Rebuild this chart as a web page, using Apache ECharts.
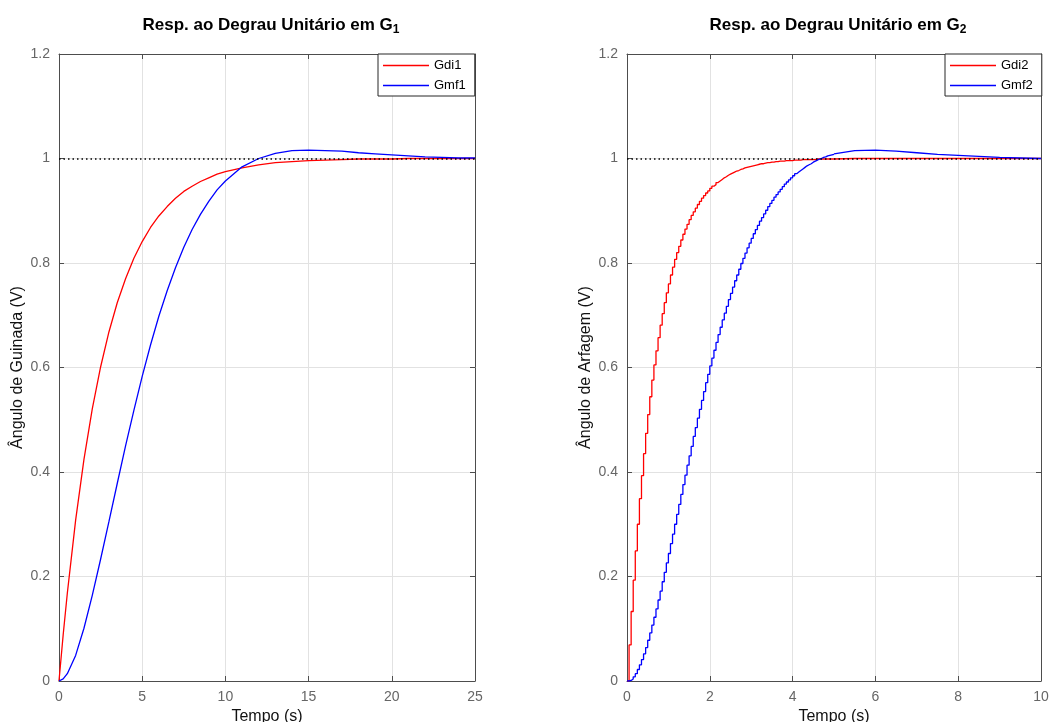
<!DOCTYPE html>
<html>
<head>
<meta charset="utf-8">
<script src="https://cdn.jsdelivr.net/npm/echarts@6/dist/echarts.min.js"></script>
<style>
html,body{margin:0;padding:0;background:#fff;}
#c{width:1051px;height:722px;}
</style>
</head>
<body>
<div id="c"></div>
<script>
// ---- Left plot (continuous) ----
const tLeft = [0,0.25,0.5,1,1.5,2,2.5,3,3.5,4,4.5,5,5.5,6,6.5,7,7.5,8,8.5,9,9.5,10,
  11,12,13,14,15,16,17,18,19,20,21,22,23,24,25];
const gdi1 = [0,0.088,0.168,0.308,0.424,0.521,0.601,0.668,0.724,0.770,0.809,0.841,0.868,0.890,0.908,0.924,0.937,0.947,0.956,0.963,0.970,0.975,
  0.982,0.988,0.992,0.994,0.996,0.997,0.998,0.999,0.999,0.999,1.000,1.000,1.000,1.000,1.000];
const gmf1 = [0,0.004,0.014,0.049,0.101,0.164,0.233,0.305,0.378,0.450,0.518,0.583,0.643,0.698,0.747,0.791,0.830,0.864,0.893,0.918,0.940,0.957,
  0.984,1.000,1.010,1.015,1.016,1.015,1.014,1.011,1.009,1.007,1.005,1.003,1.002,1.001,1.001];

// ---- Right plot (discrete, sample time Ts) ----
const Ts = 0.05;
const gdi2 = [0,0.069,0.133,0.193,0.249,0.300,0.349,0.393,0.435,0.474,0.510,
  0.544,0.576,0.605,0.632,0.657,0.681,0.703,0.724,0.743,0.760,
  0.777,0.792,0.807,0.820,0.832,0.844,0.855,0.865,0.874,0.883,
  0.891,0.898,0.905,0.912,0.918,0.924,0.929,0.934,0.938,0.943,
  0.947,0.950,0.954,0.957,0.960,0.963,0.965,0.968,0.970,0.972,
  0.974,0.976,0.977,0.979,0.980,0.982,0.983,0.984,0.985,0.986,
  0.987,0.988,0.989,0.990,0.990,0.991,0.992,0.992,0.993,0.993,
  0.994,0.994,0.995,0.995,0.995,0.996,0.996,0.996,0.996,0.997,
  0.997,0.997,0.997,0.998,0.998,0.998,0.998,0.998,0.998,0.998,
  0.999,0.999,0.999,0.999,0.999,0.999,0.999,0.999,0.999,0.999];
const gmf2 = [0,0.001,0.004,0.008,0.014,0.022,0.031,0.041,0.052,0.064,0.078,
  0.092,0.107,0.122,0.138,0.155,0.172,0.190,0.208,0.226,0.244,
  0.263,0.281,0.300,0.319,0.338,0.357,0.376,0.394,0.413,0.431,
  0.449,0.468,0.485,0.503,0.520,0.537,0.554,0.571,0.587,0.603,
  0.618,0.633,0.648,0.663,0.677,0.691,0.704,0.717,0.730,0.742,
  0.754,0.766,0.777,0.788,0.799,0.809,0.819,0.829,0.838,0.847,
  0.856,0.864,0.872,0.880,0.887,0.894,0.901,0.908,0.914,0.920,
  0.926,0.931,0.936,0.941,0.946,0.951,0.955,0.959,0.963,0.967,
  0.971,0.974,0.977,0.980,0.983,0.986,0.988,0.990,0.993,0.995,
  0.997,0.999,1.000,1.002,1.003,1.005,1.006,1.007,1.008,1.009];
const tTail = [5,5.5,6,6.5,7,7.5,8,8.5,9,9.5,10];
const gdi2Tail = [0.999,1.000,1.000,1.000,1.000,1.000,1.000,1.000,1.000,1.000,1.000];
const gmf2Tail = [1.009,1.015,1.016,1.014,1.011,1.008,1.006,1.004,1.002,1.001,1.000];

const xTicksLeft = {min:0, max:25, interval:5};
const xTicksRight = {min:0, max:10, interval:2};
const yTicks = {min:0, max:1.2, interval:0.2};

// ---- build ----
const FONT = 'Liberation Sans, Arial, Helvetica, sans-serif';
const RED = '#ff0000', BLUE = '#0000ff';
const pairs = (t, v) => v.map((y, i) => [t[i], y]);
const sampled = v => v.map((y, k) => [+(k * Ts).toFixed(4), y]);

const AX = '#4d4d4d';
function xAxisDef(grid, ticks, pos, name){
  return Object.assign({
    type:'value', gridIndex:grid, position:pos,
    axisLine:{show:true, onZero:false, lineStyle:{color:AX, width:1}},
    axisTick:{show:true, inside:true, length:5, lineStyle:{color:AX}},
    axisLabel:{show:pos==='bottom', color:'#666', fontSize:14, fontFamily:FONT, margin:9},
    splitLine:{show:pos==='bottom', lineStyle:{color:'#e2e2e2', width:1}},
    name: name || '', nameLocation:'middle', nameGap:26,
    nameTextStyle:{color:'#111', fontSize:16, fontFamily:FONT}
  }, ticks);
}
function yAxisDef(grid, pos, name){
  return Object.assign({
    type:'value', gridIndex:grid, position:pos,
    axisLine:{show:true, onZero:false, lineStyle:{color:AX, width:1}},
    axisTick:{show:true, inside:true, length:5, lineStyle:{color:AX}},
    axisLabel:{show:pos==='left', color:'#666', fontSize:14, fontFamily:FONT, margin:9,
      formatter: v => String(+v.toFixed(1))},
    splitLine:{show:pos==='left', lineStyle:{color:'#e2e2e2', width:1}},
    name: name || '', nameLocation:'middle', nameGap:33,
    nameTextStyle:{color:'#111', fontSize:16, fontFamily:FONT}
  }, yTicks);
}
const refLine = {
  silent:true, symbol:'none', animation:false,
  label:{show:false},
  lineStyle:{color:'#000', type:[1.5,3], width:1.5},
  data:[{yAxis:1}]
};
function lineSeries(name, data, color, xi, yi, extra){
  return Object.assign({
    name, type:'line', data, xAxisIndex:xi, yAxisIndex:yi,
    showSymbol:false, symbol:'none', animation:false,
    lineStyle:{color, width:1.3}, itemStyle:{color}
  }, extra || {});
}

const titleStyle = {
  color:'#000', fontSize:17, fontWeight:'bold', fontFamily:FONT,
  rich:{ s:{fontSize:12, fontWeight:'bold', fontFamily:FONT, color:'#000', padding:[10,0,0,0]} }
};
const legendBase = {
  orient:'vertical', top:54, itemWidth:46, itemHeight:1.6, itemGap:7, icon:'rect',
  padding:[5,9,4,5], backgroundColor:'#fff', borderColor:'#262626', borderWidth:1, borderRadius:0,
  textStyle:{fontSize:13, color:'#000', fontFamily:FONT}
};

const option = {
  backgroundColor:'#fff',
  animation:false,
  title:[
    {text:'Resp. ao Degrau Unitário em G{s|1}', left:266, top:9, textAlign:'center', textStyle:titleStyle},
    {text:'Resp. ao Degrau Unitário em G{s|2}', left:833, top:9, textAlign:'center', textStyle:titleStyle}
  ],
  legend:[
    Object.assign({data:['Gdi1','Gmf1'], left:378}, legendBase),
    Object.assign({data:['Gdi2','Gmf2'], left:945}, legendBase)
  ],
  grid:[
    {left:59, top:54, width:416, height:627, containLabel:false, outerBoundsMode:'none'},
    {left:627, top:54, width:414, height:627, containLabel:false, outerBoundsMode:'none'}
  ],
  xAxis:[
    xAxisDef(0, xTicksLeft, 'bottom', 'Tempo (s)'),
    xAxisDef(0, xTicksLeft, 'top'),
    xAxisDef(1, xTicksRight, 'bottom', 'Tempo (s)'),
    xAxisDef(1, xTicksRight, 'top')
  ],
  yAxis:[
    yAxisDef(0, 'left', 'Ângulo de Guinada (V)'),
    yAxisDef(0, 'right'),
    yAxisDef(1, 'left', 'Ângulo de Arfagem (V)'),
    yAxisDef(1, 'right')
  ],
  series:[
    lineSeries('Gdi1', pairs(tLeft, gdi1), RED, 0, 0),
    lineSeries('Gmf1', pairs(tLeft, gmf1), BLUE, 0, 0, {markLine:refLine}),
    lineSeries('Gdi2', sampled(gdi2), RED, 2, 2, {step:'end'}),
    lineSeries('Gdi2', pairs(tTail, gdi2Tail), RED, 2, 2),
    lineSeries('Gmf2', sampled(gmf2), BLUE, 2, 2, {step:'end'}),
    lineSeries('Gmf2', pairs(tTail, gmf2Tail), BLUE, 2, 2, {markLine:refLine})
  ]
};
const chart = echarts.init(document.getElementById('c'), null, {renderer:'canvas'});
chart.setOption(option);
</script>
</body>
</html>
